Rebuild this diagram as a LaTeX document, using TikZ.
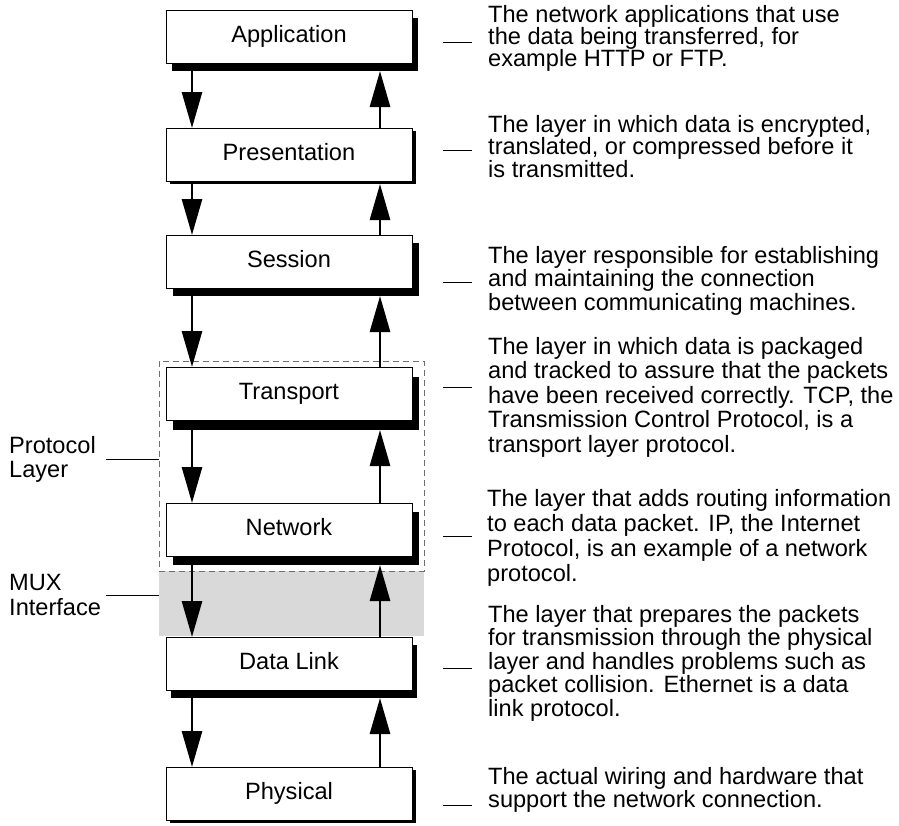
\documentclass[tikz,border=0pt]{standalone}
\usepackage{fontspec}
\setmainfont{Liberation Sans}
\usetikzlibrary{arrows.meta,shadows}
\definecolor{muxgray}{RGB}{217,217,217}
\definecolor{dashgray}{RGB}{110,110,110}

\begin{document}
\begin{tikzpicture}[x=1pt,y=-1pt,
  layer/.style={draw=black, line width=0.9pt, fill=white, anchor=north west,
    minimum width=246pt, minimum height=53pt, inner sep=0pt, outer sep=0pt,
    text height=16pt, text depth=5pt, font=\fontsize{23.6}{26}\selectfont},
  boxshadow/.style 2 args={general shadow={fill=black, shadow xshift=#1pt, shadow yshift=-#2pt}},
  region/.style={anchor=north west, minimum width=265pt, inner sep=0pt, outer sep=0pt},
  flow/.style={line width=2.8pt, -{Triangle[width=20pt,length=36pt]}},
  desc/.style={anchor=north west, align=left, inner sep=0pt},
  leader/.style={line width=0.8pt}
]
\useasboundingbox (0,0) rectangle (899,825);

% shaded MUX band and dashed protocol-layer frame
\node[region, fill=muxgray, minimum height=65pt] (mux) at (159,571) {};
\node[region, draw=dashgray, line width=0.8pt, dash pattern=on 6pt off 4pt,
      minimum height=210pt] (protocol) at (159,361) {};

% the seven layers
\node[layer, boxshadow={6}{8}]   (app)   at (166,10)  {Application};
\node[layer, boxshadow={4}{3}]   (pres)  at (166,128) {Presentation};
\node[layer, boxshadow={6.5}{8}] (sess)  at (166,235) {Session};
\node[layer, boxshadow={6.5}{10}](trans) at (166,367) {Transport};
\node[layer, boxshadow={6.5}{9}] (net)   at (166,503) {Network};
\node[layer, boxshadow={5}{8}]   (dl)    at (166,637) {Data Link};
\node[layer, boxshadow={4}{3}]   (phys)  at (166,767) {Physical};

% downward and upward data flow between neighbouring layers
\draw[flow] ([xshift=26pt,yshift=-8pt]app.south west)    -- ([xshift=26pt]pres.north west);
\draw[flow] ([xshift=-32pt]pres.north east) -- ([xshift=-32pt,yshift=-8pt]app.south east);
\draw[flow] ([xshift=26pt,yshift=-3pt]pres.south west)   -- ([xshift=26pt]sess.north west);
\draw[flow] ([xshift=-32pt]sess.north east) -- ([xshift=-32pt,yshift=-3pt]pres.south east);
\draw[flow] ([xshift=26pt,yshift=-8pt]sess.south west)   -- ([xshift=26pt]trans.north west);
\draw[flow] ([xshift=-32pt]trans.north east) -- ([xshift=-32pt,yshift=-8pt]sess.south east);
\draw[flow] ([xshift=26pt,yshift=-10pt]trans.south west) -- ([xshift=26pt]net.north west);
\draw[flow] ([xshift=-32pt]net.north east) -- ([xshift=-32pt,yshift=-10pt]trans.south east);
\draw[flow] ([xshift=26pt,yshift=-9pt]net.south west)    -- ([xshift=26pt]dl.north west);
\draw[flow] ([xshift=-32pt]dl.north east) -- ([xshift=-32pt,yshift=-9pt]net.south east);
\draw[flow] ([xshift=26pt,yshift=-8pt]dl.south west)     -- ([xshift=26pt]phys.north west);
\draw[flow] ([xshift=-32pt]phys.north east) -- ([xshift=-32pt,yshift=-8pt]dl.south east);

% descriptions
\node[desc, font=\fontsize{23.6}{22}\selectfont] (d1) at (488,5)
  {The network applications that use\\the data being transferred, for\\example HTTP or FTP.};
\node[desc, font=\fontsize{23.6}{22.5}\selectfont] (d2) at (488,115)
  {The layer in which data is encrypted,\\translated, or compressed before it\\is transmitted.};
\node[desc, font=\fontsize{23.6}{23.5}\selectfont] (d3) at (488,246)
  {The layer responsible for establishing\\and maintaining the connection\\between communicating machines.};
\node[desc, font=\fontsize{23.6}{24.5}\selectfont] (d4) at (488,337)
  {The layer in which data is packaged\\and tracked to assure that the packets\\have been received correctly. TCP, the\\Transmission Control Protocol, is a\\transport layer protocol.};
\node[desc, font=\fontsize{23.6}{25}\selectfont] (d5) at (487,489)
  {The layer that adds routing information\\to each data packet. IP, the Internet\\Protocol, is an example of a network\\protocol.};
\node[desc, font=\fontsize{23.6}{23.5}\selectfont] (d6) at (488,605)
  {The layer that prepares the packets\\for transmission through the physical\\layer and handles problems such as\\packet collision. Ethernet is a data\\link protocol.};
\node[desc, font=\fontsize{23.6}{23}\selectfont] (d7) at (488,767)
  {The actual wiring and hardware that\\support the network connection.};

% short leaders in front of the descriptions
\coordinate (l1) at (443,42);
\coordinate (l2) at (443,150);
\coordinate (l3) at (443,282);
\coordinate (l4) at (443,387);
\coordinate (l5) at (443,536);
\coordinate (l6) at (443,668);
\coordinate (l7) at (443,805);
\draw[leader] (l1) -- ([xshift=-16pt]d1.west |- l1);
\draw[leader] (l2) -- ([xshift=-16pt]d2.west |- l2);
\draw[leader] (l3) -- ([xshift=-16pt]d3.west |- l3);
\draw[leader] (l4) -- ([xshift=-16pt]d4.west |- l4);
\draw[leader] (l5) -- ([xshift=-15pt]d5.west |- l5);
\draw[leader] (l6) -- ([xshift=-16pt]d6.west |- l6);
\draw[leader] (l7) -- ([xshift=-16pt]d7.west |- l7);

% labels on the left
\node[desc, font=\fontsize{23.6}{24}\selectfont] (pl) at (9,436) {Protocol\\Layer};
\node[desc, font=\fontsize{23.6}{25}\selectfont] (ml) at (9,574) {MUX\\Interface};
\draw[leader] ([xshift=10pt]pl.east) -- (pl.east -| protocol.west);
\draw[leader] ([xshift=5pt]ml.east) -- (ml.east -| mux.west);
\end{tikzpicture}
\end{document}
